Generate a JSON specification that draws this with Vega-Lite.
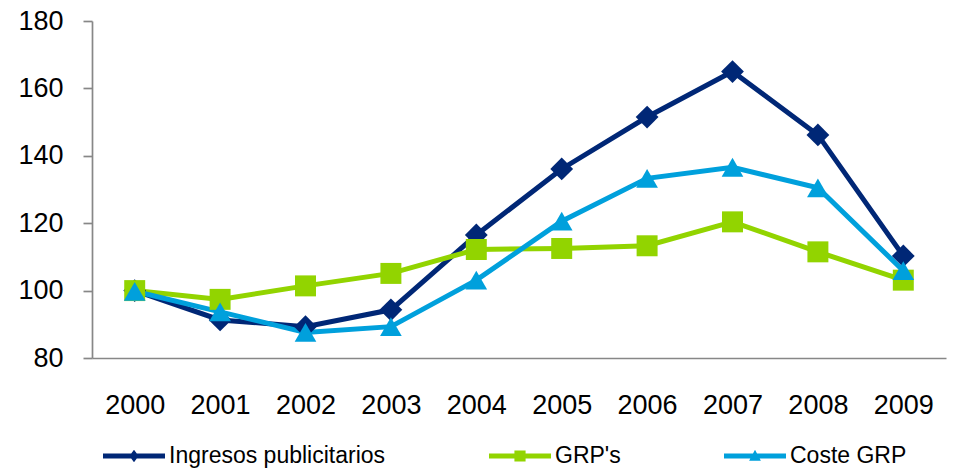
{
  "$schema": "https://vega.github.io/schema/vega-lite/v6.json",
  "autosize": "none",
  "width": 854,
  "height": 337,
  "padding": {"left": 92, "top": 21, "right": 11, "bottom": 114},
  "background": "white",
  "config": {
    "view": {"stroke": null},
    "font": "Liberation Sans",
    "axis": {"labelFont": "Liberation Sans", "labelColor": "#000000", "domainColor": "#878787", "tickColor": "#878787", "domainWidth": 1.7, "tickWidth": 1.7, "grid": false, "title": null}
  },
  "data": {
    "values": [
      {"year": "2000", "series": "Ingresos publicitarios", "value": 100},
      {"year": "2001", "series": "Ingresos publicitarios", "value": 91.3},
      {"year": "2002", "series": "Ingresos publicitarios", "value": 89.3},
      {"year": "2003", "series": "Ingresos publicitarios", "value": 94.3},
      {"year": "2004", "series": "Ingresos publicitarios", "value": 116.5},
      {"year": "2005", "series": "Ingresos publicitarios", "value": 136.1},
      {"year": "2006", "series": "Ingresos publicitarios", "value": 151.5},
      {"year": "2007", "series": "Ingresos publicitarios", "value": 165},
      {"year": "2008", "series": "Ingresos publicitarios", "value": 146.2},
      {"year": "2009", "series": "Ingresos publicitarios", "value": 110.3},
      {"year": "2000", "series": "GRP's", "value": 100},
      {"year": "2001", "series": "GRP's", "value": 97.4},
      {"year": "2002", "series": "GRP's", "value": 101.4},
      {"year": "2003", "series": "GRP's", "value": 105.1},
      {"year": "2004", "series": "GRP's", "value": 112.2},
      {"year": "2005", "series": "GRP's", "value": 112.5},
      {"year": "2006", "series": "GRP's", "value": 113.3},
      {"year": "2007", "series": "GRP's", "value": 120.4},
      {"year": "2008", "series": "GRP's", "value": 111.5},
      {"year": "2009", "series": "GRP's", "value": 103.1},
      {"year": "2000", "series": "Coste GRP", "value": 99.8},
      {"year": "2001", "series": "Coste GRP", "value": 93.7},
      {"year": "2002", "series": "Coste GRP", "value": 87.6},
      {"year": "2003", "series": "Coste GRP", "value": 89.3},
      {"year": "2004", "series": "Coste GRP", "value": 103.1},
      {"year": "2005", "series": "Coste GRP", "value": 120.6},
      {"year": "2006", "series": "Coste GRP", "value": 133.3},
      {"year": "2007", "series": "Coste GRP", "value": 136.6},
      {"year": "2008", "series": "Coste GRP", "value": 130.5},
      {"year": "2009", "series": "Coste GRP", "value": 105.9}
    ]
  },
  "encoding": {
    "x": {
      "field": "year", "type": "ordinal",
      "scale": {"type": "point", "padding": 0.5},
      "axis": {"labelAngle": 0, "ticks": false, "labelFontSize": 27, "labelPadding": 34}
    },
    "y": {
      "field": "value", "type": "quantitative",
      "scale": {"domain": [80, 180], "nice": false, "zero": false},
      "axis": {"values": [80, 100, 120, 140, 160, 180], "tickSize": 9, "labelPadding": 20, "labelFontSize": 27}
    },
    "color": {
      "field": "series", "type": "nominal",
      "scale": {"domain": ["Ingresos publicitarios", "GRP's", "Coste GRP"], "range": ["#002776", "#92D400", "#00A0DC"]},
      "legend": {
        "title": null,
        "orient": "none",
        "direction": "horizontal",
        "legendX": 11,
        "legendY": 404,
        "padding": 0,
        "symbolSize": 3844,
        "symbolStrokeWidth": 0,
        "symbolOpacity": 1,
        "labelFont": "Liberation Sans",
        "labelFontSize": 23,
        "labelColor": "#000000",
        "labelOffset": 4,
        "labelLimit": 400,
        "columnPadding": 103
      }
    }
  },
  "layer": [
    {
      "mark": {"type": "line", "strokeWidth": 5},
      "encoding": {
        "detail": {"field": "series"}
      }
    },
    {
      "mark": {"type": "point", "filled": true, "opacity": 1, "strokeWidth": 0},
      "encoding": {
        "shape": {
          "condition": [
            {"test": "datum.series === 'Ingresos publicitarios'", "value": "diamond"},
            {"test": "datum.series === 'Coste GRP'", "value": "triangle-up"}
          ],
          "value": "square"
        },
        "size": {
          "condition": [
            {"test": "datum.series === 'Ingresos publicitarios'", "value": 520},
            {"test": "datum.series === 'Coste GRP'", "value": 470}
          ],
          "value": 440
        }
      }
    },
    {
      "mark": {"type": "point", "filled": true, "size": 0, "strokeWidth": 0},
      "encoding": {
        "shape": {
          "field": "series", "type": "nominal",
          "scale": {
            "domain": ["Ingresos publicitarios", "GRP's", "Coste GRP"],
            "range": [
              "M-1,-0.08L1,-0.08L1,0.08L-1,0.08Z M0,-0.2L0.15,0L0,0.2L-0.15,0Z",
              "M-1,-0.08L1,-0.08L1,0.08L-1,0.08Z M-0.18,-0.18L0.18,-0.18L0.18,0.18L-0.18,0.18Z",
              "M-1,-0.08L1,-0.08L1,0.08L-1,0.08Z M0,-0.2L0.19,0.15L-0.19,0.15Z"
            ]
          },
          "legend": {
            "title": null,
            "orient": "none",
            "direction": "horizontal",
            "legendX": 11,
            "legendY": 404,
            "padding": 0,
            "symbolSize": 3844,
            "symbolStrokeWidth": 0,
            "symbolOpacity": 1,
            "labelFont": "Liberation Sans",
            "labelFontSize": 23,
            "labelColor": "#000000",
            "labelOffset": 4,
            "labelLimit": 400,
            "columnPadding": 103
          }
        }
      }
    }
  ]
}
